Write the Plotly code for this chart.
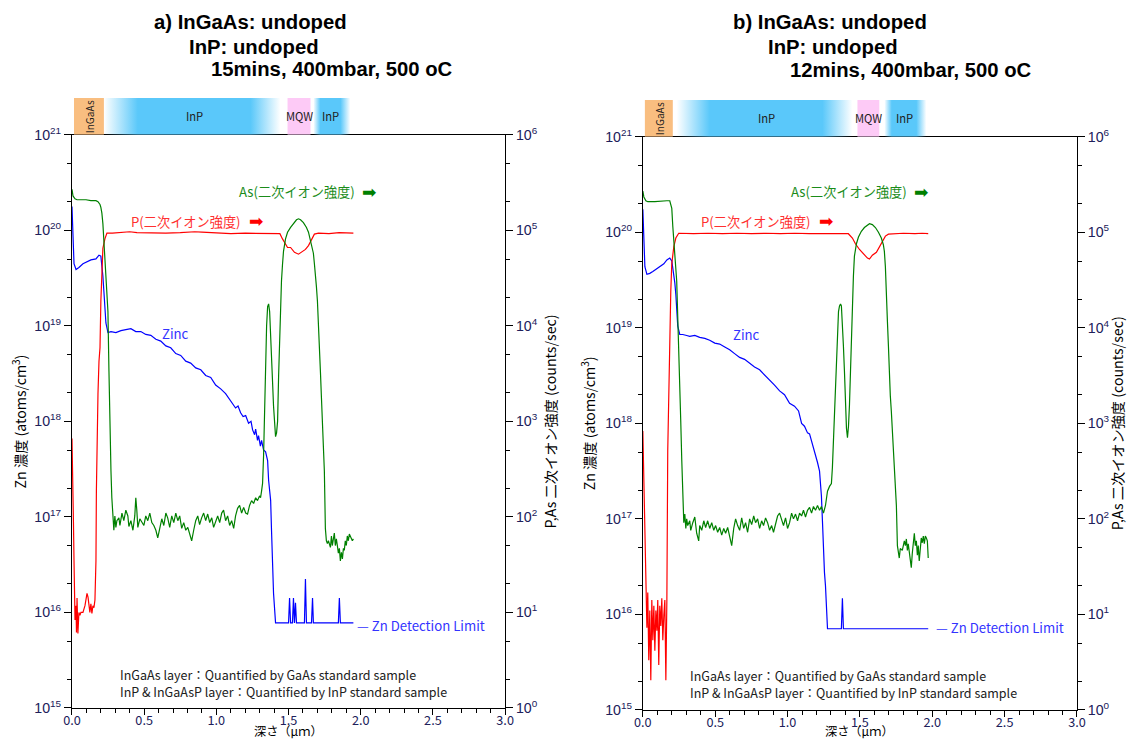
import numpy as np
import plotly.graph_objects as go

W, H = 1133, 749          # figure size in px
PAD = 8                   # page body margin around the figure div
SX, SY = W / (W + 2 * PAD), H / (H + 2 * PAD)   # page-to-picture scale

# ---------------- SIMS depth profiles: (depth in um, log10 value) ----------------
# Panel a: 15 min anneal
zn_a = [(0.000, 20.25), (0.007, 19.88), (0.014, 19.65), (0.028, 19.59), (0.048, 19.61), (0.076, 19.65),
        (0.104, 19.67), (0.131, 19.69), (0.166, 19.70), (0.187, 19.74), (0.200, 19.73), (0.207, 19.65),
        (0.214, 19.52), (0.221, 19.36), (0.228, 19.20), (0.235, 19.03), (0.249, 18.93), (0.270, 18.94),
        (0.304, 18.93), (0.339, 18.95), (0.373, 18.96), (0.408, 18.97), (0.442, 18.94), (0.477, 18.94),
        (0.511, 18.91), (0.546, 18.90), (0.581, 18.86), (0.615, 18.84), (0.650, 18.79), (0.684, 18.77),
        (0.719, 18.71), (0.753, 18.69), (0.788, 18.63), (0.822, 18.61), (0.857, 18.56), (0.892, 18.54),
        (0.926, 18.48), (0.961, 18.46), (0.995, 18.38), (1.030, 18.34), (1.064, 18.29), (1.099, 18.22),
        (1.120, 18.17), (1.133, 18.14), (1.150, 18.16), (1.168, 18.09), (1.185, 18.05), (1.203, 18.06),
        (1.223, 17.98), (1.240, 18.00), (1.251, 17.91), (1.265, 17.86), (1.272, 17.92), (1.285, 17.80),
        (1.292, 17.85), (1.305, 17.74), (1.313, 17.80), (1.327, 17.70), (1.341, 17.68), (1.348, 17.62),
        (1.355, 17.59), (1.362, 17.38), (1.376, 17.17), (1.382, 16.86), (1.389, 16.54), (1.396, 16.20),
        (1.410, 15.89), (1.500, 15.89), (1.507, 16.15), (1.514, 15.89), (1.527, 15.89), (1.534, 16.15),
        (1.541, 15.89), (1.548, 16.10), (1.555, 15.89), (1.610, 15.89), (1.617, 16.35), (1.624, 15.89),
        (1.659, 15.89), (1.666, 16.15), (1.672, 15.89), (1.845, 15.89), (1.852, 16.15), (1.859, 15.89),
        (1.949, 15.89)]

p_a = [(0.000, 2.82), (0.007, 2.38), (0.010, 1.96), (0.014, 1.54), (0.017, 1.23), (0.021, 0.92),
       (0.028, 1.07), (0.031, 0.79), (0.035, 1.15), (0.041, 0.78), (0.048, 1.00), (0.055, 0.97),
       (0.062, 1.00), (0.076, 1.00), (0.090, 1.07), (0.104, 1.20), (0.111, 1.16), (0.118, 1.07),
       (0.124, 1.00), (0.131, 1.09), (0.138, 0.99), (0.145, 1.07), (0.152, 1.05), (0.159, 1.13),
       (0.166, 1.54), (0.169, 2.27), (0.173, 2.90), (0.180, 3.29), (0.187, 3.63), (0.194, 3.77),
       (0.200, 4.26), (0.207, 4.62), (0.214, 4.81), (0.228, 4.91), (0.242, 4.97), (0.280, 4.97),
       (0.350, 4.98), (0.400, 4.985), (0.450, 4.975), (0.550, 4.97), (0.650, 4.97), (0.750, 4.975),
       (0.850, 4.985), (0.900, 4.98), (1.000, 4.97), (1.100, 4.965), (1.200, 4.97), (1.300, 4.965),
       (1.400, 4.965), (1.440, 4.965), (1.458, 4.91), (1.479, 4.85), (1.493, 4.82), (1.514, 4.82),
       (1.541, 4.77), (1.569, 4.75), (1.596, 4.78), (1.617, 4.80), (1.638, 4.84), (1.659, 4.90),
       (1.679, 4.96), (1.707, 4.97), (1.780, 4.965), (1.850, 4.975), (1.900, 4.97), (1.949, 4.97)]

as_a = [(0.000, 5.43), (0.007, 5.36), (0.021, 5.33), (0.035, 5.32), (0.062, 5.32), (0.097, 5.32),
        (0.131, 5.31), (0.166, 5.31), (0.180, 5.30), (0.194, 5.27), (0.200, 5.24), (0.207, 5.18),
        (0.214, 5.07), (0.221, 4.88), (0.228, 4.73), (0.235, 4.59), (0.242, 4.36), (0.249, 4.15),
        (0.256, 3.53), (0.263, 2.90), (0.270, 2.48), (0.276, 2.20), (0.283, 2.04), (0.290, 1.86),
        (0.297, 2.01), (0.304, 1.89), (0.311, 1.96), (0.325, 1.99), (0.332, 1.91), (0.346, 2.04),
        (0.359, 1.96), (0.373, 2.07), (0.387, 2.01), (0.394, 1.90), (0.408, 1.96), (0.422, 1.86),
        (0.435, 2.01), (0.442, 2.20), (0.449, 2.07), (0.456, 1.89), (0.470, 1.98), (0.484, 1.94),
        (0.498, 1.91), (0.511, 2.01), (0.525, 1.96), (0.539, 2.04), (0.553, 1.94), (0.567, 1.91),
        (0.581, 1.86), (0.594, 1.78), (0.608, 1.89), (0.622, 1.98), (0.636, 1.91), (0.650, 2.04),
        (0.663, 1.99), (0.677, 1.89), (0.691, 2.01), (0.705, 1.94), (0.719, 2.04), (0.733, 1.96),
        (0.746, 2.01), (0.760, 1.88), (0.774, 1.94), (0.788, 1.86), (0.802, 1.89), (0.815, 1.81),
        (0.829, 1.75), (0.843, 1.86), (0.857, 1.96), (0.871, 2.01), (0.884, 1.92), (0.898, 1.99),
        (0.912, 2.04), (0.926, 1.96), (0.940, 2.03), (0.954, 1.94), (0.968, 1.99), (0.981, 1.89),
        (0.995, 1.96), (1.009, 2.01), (1.023, 1.94), (1.037, 2.04), (1.050, 2.07), (1.064, 1.96),
        (1.078, 2.01), (1.092, 1.91), (1.106, 1.96), (1.120, 1.88), (1.133, 2.01), (1.147, 2.09),
        (1.161, 2.12), (1.175, 2.04), (1.189, 2.10), (1.203, 2.04), (1.216, 2.03), (1.230, 2.12),
        (1.244, 2.17), (1.258, 2.14), (1.272, 2.20), (1.285, 2.17), (1.299, 2.22), (1.306, 2.20),
        (1.313, 2.27), (1.320, 2.35), (1.327, 2.64), (1.334, 3.21), (1.341, 3.66), (1.348, 4.00),
        (1.355, 4.20), (1.362, 4.23), (1.369, 4.15), (1.376, 3.94), (1.382, 3.68), (1.389, 3.42),
        (1.396, 3.16), (1.403, 2.95), (1.410, 2.84), (1.417, 2.88), (1.424, 3.00), (1.431, 3.47),
        (1.438, 3.94), (1.444, 4.23), (1.451, 4.47), (1.458, 4.64), (1.465, 4.78), (1.479, 4.91),
        (1.493, 4.98), (1.514, 5.03), (1.534, 5.07), (1.555, 5.11), (1.569, 5.12), (1.583, 5.11),
        (1.603, 5.08), (1.624, 5.03), (1.638, 4.98), (1.652, 4.90), (1.666, 4.82), (1.672, 4.76),
        (1.679, 4.65), (1.686, 4.55), (1.693, 4.41), (1.700, 4.26), (1.707, 3.94), (1.714, 3.73),
        (1.721, 3.51), (1.728, 3.24), (1.735, 3.00), (1.741, 2.72), (1.748, 2.48), (1.755, 1.88),
        (1.762, 1.75), (1.769, 1.72), (1.776, 1.75), (1.790, 1.68), (1.797, 1.80), (1.803, 1.70),
        (1.810, 1.78), (1.817, 1.83), (1.824, 1.70), (1.831, 1.77), (1.838, 1.70), (1.845, 1.62),
        (1.852, 1.67), (1.859, 1.54), (1.866, 1.63), (1.873, 1.56), (1.880, 1.67), (1.886, 1.65),
        (1.893, 1.75), (1.900, 1.70), (1.907, 1.80), (1.914, 1.75), (1.921, 1.82), (1.928, 1.80),
        (1.935, 1.78), (1.942, 1.75), (1.949, 1.77)]

# Panel b: 12 min anneal
zn_b = [(0.000, 20.24), (0.007, 19.90), (0.014, 19.64), (0.028, 19.56), (0.048, 19.57), (0.069, 19.59),
        (0.097, 19.62), (0.117, 19.64), (0.145, 19.67), (0.166, 19.71), (0.186, 19.73), (0.200, 19.70),
        (0.207, 19.62), (0.214, 19.57), (0.221, 19.47), (0.228, 19.35), (0.234, 19.23), (0.241, 19.02),
        (0.255, 18.93), (0.276, 18.93), (0.303, 18.92), (0.324, 18.91), (0.359, 18.92), (0.393, 18.90),
        (0.428, 18.89), (0.462, 18.87), (0.497, 18.84), (0.531, 18.83), (0.566, 18.80), (0.600, 18.77),
        (0.634, 18.73), (0.669, 18.69), (0.703, 18.67), (0.738, 18.63), (0.772, 18.59), (0.807, 18.56),
        (0.841, 18.51), (0.876, 18.46), (0.910, 18.40), (0.945, 18.34), (0.979, 18.30), (1.014, 18.21),
        (1.048, 18.18), (1.076, 18.13), (1.097, 18.00), (1.117, 17.97), (1.138, 17.90), (1.152, 17.89),
        (1.166, 17.82), (1.179, 17.73), (1.193, 17.66), (1.207, 17.59), (1.221, 17.50), (1.228, 17.38),
        (1.234, 17.24), (1.241, 16.98), (1.248, 16.62), (1.255, 16.44), (1.262, 16.30), (1.269, 16.09),
        (1.276, 15.85), (1.372, 15.85), (1.379, 16.17), (1.386, 15.85), (1.972, 15.85)]

p_b = [(0.000, 2.92), (0.007, 2.40), (0.014, 1.77), (0.021, 1.15), (0.028, 0.86), (0.034, 1.23),
       (0.041, 0.52), (0.048, 1.04), (0.055, 0.31), (0.062, 1.15), (0.069, 0.73), (0.076, 1.09),
       (0.083, 0.62), (0.090, 1.04), (0.097, 0.83), (0.103, 1.15), (0.110, 0.47), (0.117, 1.09),
       (0.124, 0.88), (0.131, 1.17), (0.138, 0.73), (0.145, 0.99), (0.152, 1.15), (0.159, 0.31),
       (0.166, 1.15), (0.172, 2.71), (0.179, 3.34), (0.186, 3.91), (0.193, 4.38), (0.200, 4.67),
       (0.214, 4.85), (0.228, 4.94), (0.248, 4.99), (0.350, 4.985), (0.450, 4.99), (0.550, 4.985),
       (0.650, 4.99), (0.750, 4.985), (0.850, 4.99), (0.950, 4.985), (1.050, 4.99), (1.150, 4.985),
       (1.250, 4.985), (1.350, 4.99), (1.420, 4.985), (1.448, 4.94), (1.469, 4.88), (1.497, 4.82),
       (1.524, 4.77), (1.552, 4.73), (1.566, 4.72), (1.586, 4.76), (1.614, 4.79), (1.634, 4.84),
       (1.655, 4.90), (1.676, 4.96), (1.697, 4.98), (1.800, 4.99), (1.880, 4.985), (1.930, 4.99),
       (1.972, 4.985)]

as_b = [(0.000, 5.43), (0.007, 5.37), (0.021, 5.33), (0.034, 5.32), (0.083, 5.32), (0.131, 5.33),
        (0.166, 5.33), (0.186, 5.33), (0.193, 5.30), (0.200, 5.25), (0.207, 5.06), (0.214, 4.90),
        (0.221, 4.77), (0.228, 4.64), (0.234, 4.49), (0.241, 4.12), (0.248, 3.81), (0.255, 3.55),
        (0.262, 3.02), (0.269, 2.61), (0.276, 2.14), (0.283, 1.96), (0.290, 2.05), (0.297, 1.90),
        (0.303, 2.00), (0.310, 1.93), (0.324, 1.98), (0.331, 1.88), (0.345, 1.96), (0.359, 2.02),
        (0.372, 1.85), (0.386, 1.77), (0.393, 1.93), (0.407, 1.88), (0.421, 1.98), (0.434, 1.91),
        (0.448, 1.98), (0.462, 1.90), (0.476, 1.96), (0.490, 1.88), (0.503, 1.93), (0.517, 1.86),
        (0.531, 1.91), (0.545, 1.83), (0.559, 1.90), (0.572, 1.85), (0.586, 1.91), (0.600, 1.80),
        (0.614, 1.72), (0.628, 1.90), (0.641, 2.00), (0.655, 1.93), (0.669, 1.88), (0.683, 2.01),
        (0.697, 1.90), (0.710, 1.96), (0.724, 1.86), (0.738, 2.00), (0.752, 1.94), (0.766, 2.03),
        (0.779, 1.96), (0.793, 2.00), (0.807, 1.90), (0.821, 1.98), (0.834, 1.93), (0.848, 2.01),
        (0.862, 1.96), (0.876, 1.88), (0.890, 1.93), (0.903, 1.86), (0.917, 1.96), (0.931, 2.03),
        (0.945, 2.06), (0.959, 1.98), (0.972, 1.93), (0.986, 2.01), (1.000, 1.90), (1.014, 1.96),
        (1.028, 2.06), (1.041, 2.00), (1.055, 2.05), (1.069, 1.98), (1.083, 2.06), (1.097, 2.03),
        (1.110, 2.09), (1.124, 2.02), (1.138, 2.09), (1.152, 2.12), (1.166, 2.06), (1.179, 2.13),
        (1.193, 2.09), (1.207, 2.14), (1.221, 2.09), (1.234, 2.13), (1.248, 2.06), (1.262, 2.14),
        (1.276, 2.29), (1.290, 2.34), (1.303, 2.37), (1.310, 2.54), (1.317, 2.82), (1.324, 3.13),
        (1.331, 3.44), (1.338, 3.76), (1.345, 4.02), (1.352, 4.17), (1.359, 4.23), (1.366, 4.25),
        (1.372, 4.23), (1.379, 4.07), (1.386, 3.81), (1.393, 3.55), (1.400, 3.23), (1.407, 2.95),
        (1.414, 2.85), (1.421, 2.97), (1.428, 3.20), (1.434, 3.55), (1.441, 3.89), (1.448, 4.28),
        (1.455, 4.54), (1.462, 4.75), (1.476, 4.88), (1.490, 4.95), (1.510, 5.01), (1.531, 5.05),
        (1.552, 5.08), (1.566, 5.09), (1.586, 5.08), (1.607, 5.05), (1.628, 5.00), (1.648, 4.94),
        (1.662, 4.87), (1.669, 4.80), (1.676, 4.64), (1.683, 4.43), (1.690, 4.07), (1.697, 3.81),
        (1.703, 3.49), (1.710, 3.29), (1.717, 3.13), (1.724, 2.92), (1.731, 2.71), (1.738, 2.56),
        (1.745, 2.35), (1.752, 2.14), (1.759, 1.72), (1.766, 1.65), (1.772, 1.59), (1.779, 1.69),
        (1.793, 1.67), (1.807, 1.77), (1.814, 1.72), (1.821, 1.79), (1.828, 1.67), (1.834, 1.74),
        (1.841, 1.64), (1.848, 1.56), (1.855, 1.49), (1.862, 1.64), (1.869, 1.79), (1.876, 1.85),
        (1.883, 1.72), (1.890, 1.77), (1.897, 1.62), (1.903, 1.72), (1.910, 1.56), (1.917, 1.72),
        (1.924, 1.80), (1.931, 1.75), (1.938, 1.82), (1.945, 1.74), (1.952, 1.82), (1.959, 1.80),
        (1.966, 1.77), (1.972, 1.59)]

# ---------------- layer structure bars: (label, start, solid start, solid end, end, kind) ----------------
layers_a = [("InGaAs", 0.014, 0.014, 0.221, 0.221, "InGaAs"),
            ("InP", 0.221, 0.456, 1.237, 1.444, "InP"),
            ("MQW", 1.493, 1.493, 1.652, 1.652, "MQW"),
            ("InP", 1.672, 1.720, 1.860, 1.928, "InP")]
layers_b = [("InGaAs", 0.014, 0.014, 0.207, 0.207, "InGaAs"),
            ("InP", 0.234, 0.462, 1.241, 1.448, "InP"),
            ("MQW", 1.483, 1.483, 1.634, 1.634, "MQW"),
            ("InP", 1.669, 1.720, 1.890, 1.959, "InP")]
layer_colors = {"InGaAs": (249, 190, 128), "InP": (90, 200, 250), "MQW": (253, 202, 246)}

titles_a = ["a) InGaAs: undoped", "InP: undoped", "15mins, 400mbar, 500 oC"]
titles_b = ["b) InGaAs: undoped", "InP: undoped", "12mins, 400mbar, 500 oC"]
notes = ["InGaAs layer：Quantified by GaAs standard sample",
         "InP & InGaAsP layer：Quantified by InP standard sample"]

zn_decades = [15, 16, 17, 18, 19, 20, 21]
ion_decades = [0, 1, 2, 3, 4, 5, 6]


# ---------------- geometry helpers (picture pixel -> paper) ----------------
def px(x):
    return (x / SX - PAD) / W


def py(y):
    return 1 - (y / SY - PAD) / H


def fs(n):
    return round(n / SX, 1)


JP = "Noto Sans CJK JP"
TICK_COL = "#20205a"

panels = [
    dict(data=(zn_a, p_a, as_a), layers=layers_a, titles=titles_a,
         xl=71, xr=505, yt=133, yb=708, bar_top=96, sfx=("", "", "2"), bar=("3", "5"),
         title_pos=[(151, 20), (186, 45), (208, 67)], note_pos=(117, 674, 692),
         as_pos=(357, 190), p_pos=(242, 220), zinc_pos=(175, 332), dl_pos=(355, 625),
         ytl=18, ytr=550),
    dict(data=(zn_b, p_b, as_b), layers=layers_b, titles=titles_b,
         xl=643, xr=1078, yt=135, yb=710, bar_top=98, sfx=("2", "3", "4"), bar=("4", "6"),
         title_pos=[(731, 20), (766, 45), (788, 68)], note_pos=(688, 675, 693),
         as_pos=(910, 190), p_pos=(813, 220), zinc_pos=(747, 333), dl_pos=(935, 627),
         ytl=588, ytr=1118),
]

fig = go.Figure()
annotations = []
layout_axes = {}


def axname(kind, s):
    return kind + ("axis" + s if s else "axis")


def ref(kind, s):
    return kind + s


def log_ticks(decades):
    return dict(tickvals=[10.0 ** k for k in decades],
                ticktext=[f"10<sup>{k}</sup>" for k in decades])


for pn in panels:
    xs, ys_l, ys_r = pn["sfx"]
    zn, pp, asv = pn["data"]
    xd = [px(pn["xl"]), px(pn["xr"])]
    yd = [py(pn["yb"]), py(pn["yt"])]

    common_tick = dict(tickfont=dict(family="Liberation Sans", size=fs(14), color=TICK_COL),
                       showgrid=False, zeroline=False, linecolor="black", linewidth=1,
                       ticks="outside", ticklen=7, tickcolor="black",
                       minor=dict(ticks="outside", ticklen=4, tickcolor="black", showgrid=False))

    layout_axes[axname("x", xs)] = dict(
        domain=xd, range=[0, 3], anchor=ref("y", ys_l), showline=True, mirror=True,
        linecolor="black", linewidth=1, showgrid=False, zeroline=False,
        ticks="outside", ticklen=6, tickcolor="black", dtick=0.5, tick0=0, tickformat=".1f",
        ticklabelstandoff=-5,
        tickfont=dict(family=JP, size=fs(12.5), color=TICK_COL),
        minor=dict(ticks="outside", ticklen=4, dtick=0.1, tickcolor="black", showgrid=False))
    layout_axes[axname("y", ys_l)] = dict(
        domain=yd, type="log", range=[15, 21], anchor=ref("x", xs), showline=True,
        **log_ticks(zn_decades), **common_tick)
    layout_axes[axname("y", ys_r)] = dict(
        type="log", range=[0, 6], overlaying=ref("y", ys_l), side="right", anchor=ref("x", xs),
        showline=True, **log_ticks(ion_decades), **common_tick)

    # profiles
    d, v = zip(*zn)
    fig.add_trace(go.Scatter(x=d, y=10 ** np.array(v), mode="lines", name="Zinc",
                             line=dict(color="#0000ff", width=1.2),
                             xaxis=ref("x", xs), yaxis=ref("y", ys_l), showlegend=False))
    d, v = zip(*pp)
    fig.add_trace(go.Scatter(x=d, y=10 ** np.array(v), mode="lines", name="P",
                             line=dict(color="#ff0000", width=1.2),
                             xaxis=ref("x", xs), yaxis=ref("y", ys_r), showlegend=False))
    d, v = zip(*asv)
    fig.add_trace(go.Scatter(x=d, y=10 ** np.array(v), mode="lines", name="As",
                             line=dict(color="#008000", width=1.2),
                             xaxis=ref("x", xs), yaxis=ref("y", ys_r), showlegend=False))

    # layer bar on its own axes above the plot
    bx, by = pn["bar"]
    layout_axes[axname("x", bx)] = dict(domain=xd, range=[0, 3], anchor=ref("y", by), visible=False)
    layout_axes[axname("y", by)] = dict(domain=[py(pn["yt"]), py(pn["bar_top"])], range=[0, 1],
                                        anchor=ref("x", bx), visible=False)
    for name, s, s1, e1, e, kind in pn["layers"]:
        r, g, b = layer_colors[kind]
        solid = f"rgb({r},{g},{b})"
        clear = f"rgba({r},{g},{b},0)"
        span = e - s
        if s1 > s or e > e1:
            cs = [[0, clear], [(s1 - s) / span, solid], [(e1 - s) / span, solid], [1, clear]]
            fig.add_trace(go.Scatter(x=[s, e, e, s, s], y=[0, 0, 1, 1, 0], mode="lines",
                                     line=dict(width=0), fill="toself",
                                     fillgradient=dict(type="horizontal", colorscale=cs),
                                     xaxis=ref("x", bx), yaxis=ref("y", by),
                                     hoverinfo="skip", showlegend=False))
        else:
            fig.add_trace(go.Scatter(x=[s, e, e, s, s], y=[0, 0, 1, 1, 0], mode="lines",
                                     line=dict(width=0), fill="toself", fillcolor=solid,
                                     xaxis=ref("x", bx), yaxis=ref("y", by),
                                     hoverinfo="skip", showlegend=False))
        mid = (s1 + e1) / 2
        annotations.append(dict(x=mid, y=0.5, xref=ref("x", bx), yref=ref("y", by),
                                text=name, showarrow=False,
                                textangle=-90 if kind == "InGaAs" else 0,
                                font=dict(family=JP, size=fs(11) if kind != "InGaAs" else fs(10),
                                          color="#202020")))

    # panel title
    for (tx, ty), t in zip(pn["title_pos"], pn["titles"]):
        annotations.append(dict(x=px(tx), y=py(ty), xref="paper", yref="paper", text=f"<b>{t}</b>",
                                showarrow=False, xanchor="left", yanchor="middle",
                                font=dict(family="Liberation Sans", size=fs(20), color="black")))

    # series labels
    ax_, ay_ = pn["as_pos"]
    annotations.append(dict(x=px(ax_), y=py(ay_), xref="paper", yref="paper", text="As(二次イオン強度)",
                            showarrow=False, xanchor="right", yanchor="middle",
                            font=dict(family=JP, size=fs(13), color="#1a8c1a")))
    annotations.append(dict(x=px(ax_ + 3), y=py(ay_), xref="paper", yref="paper", text="➡",
                            showarrow=False, xanchor="left", yanchor="middle",
                            font=dict(family="DejaVu Sans", size=fs(17), color="#008000")))
    p_x, p_y = pn["p_pos"]
    annotations.append(dict(x=px(p_x), y=py(p_y), xref="paper", yref="paper", text="P(二次イオン強度)",
                            showarrow=False, xanchor="right", yanchor="middle",
                            font=dict(family=JP, size=fs(13), color="#ff3030")))
    annotations.append(dict(x=px(p_x + 4), y=py(p_y), xref="paper", yref="paper", text="➡",
                            showarrow=False, xanchor="left", yanchor="middle",
                            font=dict(family="DejaVu Sans", size=fs(17), color="#ff0000")))
    zx, zy = pn["zinc_pos"]
    annotations.append(dict(x=px(zx), y=py(zy), xref="paper", yref="paper", text="Zinc",
                            showarrow=False, xanchor="center", yanchor="middle",
                            font=dict(family=JP, size=fs(13), color="#3333ff")))
    dx, dy = pn["dl_pos"]
    annotations.append(dict(x=px(dx), y=py(dy), xref="paper", yref="paper", text="— Zn Detection Limit",
                            showarrow=False, xanchor="left", yanchor="middle",
                            font=dict(family=JP, size=fs(13), color="#3333ff")))
    nx, ny1, ny2 = pn["note_pos"]
    for t, ny in zip(notes, (ny1, ny2)):
        annotations.append(dict(x=px(nx), y=py(ny), xref="paper", yref="paper", text=t,
                                showarrow=False, xanchor="left", yanchor="middle",
                                font=dict(family=JP, size=fs(12.3), color="#202020")))

    # axis titles
    ymid = (pn["yt"] + pn["yb"]) / 2
    annotations.append(dict(x=px(pn["ytl"]), y=py(ymid), xref="paper", yref="paper",
                            text="Zn 濃度 (atoms/cm<sup>3</sup>)", textangle=-90, showarrow=False,
                            xanchor="center", yanchor="middle",
                            font=dict(family=JP, size=fs(14), color="black")))
    annotations.append(dict(x=px(pn["ytr"]), y=py(ymid), xref="paper", yref="paper",
                            text="P,As 二次イオン強度 (counts/sec)", textangle=-90, showarrow=False,
                            xanchor="center", yanchor="middle",
                            font=dict(family=JP, size=fs(14), color="black")))
    annotations.append(dict(x=px((pn["xl"] + pn["xr"]) / 2), y=0, xref="paper", yref="paper",
                            text="深さ（μｍ）", showarrow=False, xanchor="center", yanchor="bottom",
                            borderpad=0, font=dict(family=JP, size=fs(12), color="black")))

fig.update_layout(width=W, height=H, margin=dict(l=0, r=0, t=0, b=0),
                  paper_bgcolor="white", plot_bgcolor="white",
                  showlegend=False, annotations=annotations, **layout_axes)

fig.write_html("out.html")
